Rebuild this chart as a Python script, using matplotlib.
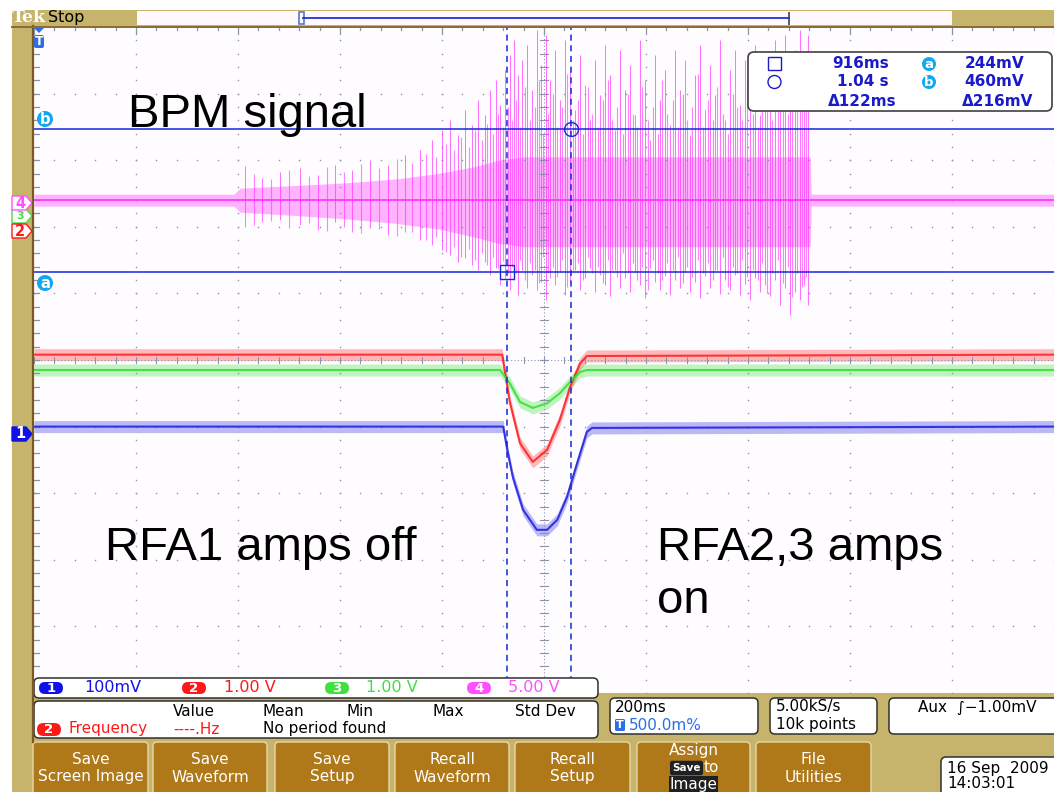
import matplotlib
matplotlib.use("Agg")
import matplotlib.pyplot as plt
from matplotlib.patches import FancyBboxPatch, Rectangle, Circle, Polygon

W, H = 1054, 792

# ---------------- data (time in ms, amplitude in screen divisions) ----------------
time_range_ms = (-12, 1988)          # 200 ms/div, 10 divisions
div_range = (-5, 5)

# channel 1 (blue) RFA
ch1_t = [-12, 908, 916, 927, 947, 974, 994, 1014, 1033, 1053, 1072, 1082, 1988]
ch1_y = [-1.00, -1.00, -1.35, -1.76, -2.25, -2.55, -2.55, -2.40, -2.06, -1.55, -1.08, -1.02, -1.00]
# channel 2 (red)
ch2_t = [-12, 906, 921, 941, 966, 994, 1019, 1039, 1059, 1072, 1988]
ch2_y = [0.08, 0.08, -0.63, -1.25, -1.53, -1.35, -0.90, -0.41, -0.05, 0.06, 0.08]
# channel 3 (green)
ch3_t = [-12, 902, 921, 941, 966, 994, 1019, 1039, 1059, 1072, 1988]
ch3_y = [-0.15, -0.15, -0.35, -0.63, -0.72, -0.65, -0.50, -0.33, -0.18, -0.15, -0.15]

# channel 4 (magenta) BPM signal: dense band envelope
bpm_band_t  = [-12, 380, 392, 500, 600, 700, 780, 850, 900, 950, 1500, 1510, 1512, 1988]
bpm_band_hi = [2.49, 2.49, 2.58, 2.62, 2.66, 2.72, 2.80, 2.90, 3.00, 3.05, 3.05, 3.05, 2.49, 2.49]
bpm_band_lo = [2.31, 2.31, 2.22, 2.17, 2.12, 2.05, 1.97, 1.85, 1.75, 1.70, 1.70, 1.70, 2.31, 2.31]
bpm_base_t = [-12, 1988]
bpm_base_y = [2.40, 2.40]
# large BPM spikes: time, top, bottom
spike_t = [402, 435, 470, 510, 545, 578, 612, 647, 682, 716, 745, 769,
           788, 804, 819, 833, 847, 859, 872, 882, 894, 902, 912, 921,
           929, 937, 945, 955, 965, 974, 982, 992, 1000, 1010, 1019, 1029,
           1039, 1049, 1059, 1069, 1078, 1088, 1098, 1108, 1118, 1127, 1137, 1147,
           1157, 1167, 1176, 1186, 1196, 1206, 1216, 1225, 1235, 1245, 1255, 1265,
           1274, 1284, 1294, 1304, 1314, 1324, 1333, 1343, 1353, 1363, 1372, 1382,
           1392, 1402, 1412, 1421, 1431, 1441, 1451, 1461, 1471, 1480, 1490, 1498, 1506]
spike_hi = [2.91, 2.73, 2.82, 2.88, 2.78, 2.93, 2.85, 3.00, 2.93, 3.08, 3.15, 3.30,
            3.45, 3.60, 3.38, 3.75, 3.53, 3.90, 3.68, 4.05, 4.20, 3.83, 4.35, 4.58,
            4.80, 4.28, 4.50, 4.73, 4.05, 4.95, 4.43, 4.88, 4.20, 4.65, 3.90, 4.80,
            4.35, 3.75, 4.58, 4.13, 3.60, 4.50, 3.98, 4.73, 4.28, 3.45, 4.65, 4.05,
            4.43, 3.68, 4.80, 4.20, 3.30, 4.58, 3.90, 4.35, 3.53, 4.65, 4.05, 4.50,
            3.38, 4.28, 4.73, 3.75, 4.43, 3.98, 4.80, 3.60, 4.35, 4.65, 3.83, 4.50,
            4.13, 4.73, 3.68, 4.58, 4.20, 4.80, 3.98, 4.88, 4.35, 4.65, 4.95, 4.50, 4.88]
spike_lo = [2.00, 2.07, 2.10, 2.03, 1.95, 2.07, 1.92, 1.98, 1.88, 1.92, 1.80, 1.73,
            1.65, 1.58, 1.47, 1.53, 1.43, 1.35, 1.47, 1.28, 1.38, 1.13, 1.23, 1.05,
            1.20, 0.98, 1.35, 1.08, 1.28, 1.05, 1.17, 0.90, 1.23, 1.13, 1.32, 0.98,
            1.17, 1.35, 1.05, 1.23, 1.38, 1.02, 1.28, 1.13, 0.96, 1.35, 1.08, 1.23,
            1.02, 1.32, 1.13, 0.93, 1.38, 1.17, 1.05, 1.26, 0.98, 1.20, 1.08, 1.32,
            1.02, 1.17, 0.93, 1.26, 1.08, 1.35, 0.99, 1.20, 1.05, 1.28, 0.98, 1.14,
            0.90, 1.23, 1.02, 1.13, 0.96, 1.20, 0.83, 1.08, 0.68, 1.02, 0.90, 1.13, 0.83]
# medium BPM spikes
mid_t = [420, 452, 488, 527, 562, 595, 630, 664, 699, 730, 757, 776,
         796, 811, 826, 840, 853, 866, 877, 888, 898, 907, 917, 925,
         933, 941, 950, 960, 970, 978, 987, 996,
         1005, 1014, 1024, 1034, 1044, 1054, 1064, 1074, 1083, 1093,
         1103, 1113, 1122, 1132, 1142, 1152, 1162, 1171, 1181, 1191,
         1201, 1211, 1220, 1230, 1240, 1250, 1260, 1269, 1279, 1289,
         1299, 1309, 1319, 1328, 1338, 1348, 1358, 1367, 1377, 1387,
         1397, 1407, 1416, 1426, 1436, 1446, 1456, 1466, 1475, 1485,
         1494, 1502]
mid_hi = [2.80, 2.72, 2.85, 2.76, 2.90, 2.82, 2.95, 2.88, 3.02, 2.96, 3.10, 3.05,
          3.25, 3.15, 3.35, 3.20, 3.45, 3.30, 3.55, 3.40, 3.70, 3.50, 3.80, 3.60,
          3.9, 3.5, 4.1, 3.6, 3.8, 4.2, 3.4, 3.7,
          4.0, 3.5, 3.8, 4.3, 3.6, 3.9, 3.4, 4.1, 3.7, 3.5,
          3.9, 4.2, 3.6, 3.8, 3.4, 4.0, 3.7, 3.5, 4.1, 3.6,
          3.8, 3.4, 4.2, 3.7, 3.9, 3.5, 4.0, 3.6, 3.8, 4.3,
          3.5, 3.9, 3.6, 4.1, 3.7, 3.4, 4.0, 3.8, 3.6, 4.2,
          3.7, 3.5, 3.9, 4.1, 3.6, 3.8, 4.4, 3.7, 4.0, 3.9,
          4.2, 3.8]
mid_lo = [2.02, 2.08, 1.98, 2.05, 1.94, 2.00, 1.90, 1.96, 1.86, 1.92, 1.80, 1.84,
          1.62, 1.70, 1.55, 1.66, 1.50, 1.60, 1.42, 1.55, 1.38, 1.48, 1.30, 1.40,
          1.3, 1.5, 1.2, 1.45, 1.35, 1.15, 1.55, 1.3,
          1.4, 1.25, 1.5, 1.1, 1.35, 1.45, 1.2, 1.55, 1.3, 1.4,
          1.15, 1.5, 1.35, 1.25, 1.6, 1.3, 1.45, 1.2, 1.4, 1.05,
          1.5, 1.3, 1.2, 1.45, 1.35, 1.55, 1.15, 1.4, 1.25, 1.5,
          1.3, 1.45, 1.2, 1.35, 1.55, 1.1, 1.4, 1.3, 1.5, 1.25,
          1.35, 1.2, 1.45, 1.0, 1.3, 1.5, 1.15, 1.4, 0.95, 1.3,
          1.1, 1.25]

# cursors
cursor_t = [916, 1040]
cursor_y = [1.32, 3.47]   # a, b

readout = {"t1": "916ms", "t2": "1.04 s", "dt": "\u0394122ms",
           "va": "244mV", "vb": "460mV", "dv": "\u0394216mV"}
ch_scales = [("1", "100mV"), ("2", "1.00 V"), ("3", "1.00 V"), ("4", "5.00 V")]
meas_headers = ["Value", "Mean", "Min", "Max", "Std Dev"]
buttons = ["Save\nScreen Image", "Save\nWaveform", "Save\nSetup", "Recall\nWaveform",
           "Recall\nSetup", "ASSIGN", "File\nUtilities"]

# ---------------- styles ----------------
TAN = '#c6b46c'
BTN = '#af7818'
GRID = '#8a94a8'
MAG = '#ff30ff'
RED = '#ff1c1c'
GRN = '#30e030'
BLU = '#1c1ce0'
CUR = '#1428d8'
CYAN = '#12a8ee'
TXTB = '#1a1ac8'
CHCOL = {"1": '#1010e8', "2": '#ff1818', "3": '#40e040', "4": '#ff50ff'}

fig = plt.figure(figsize=(W / 100, H / 100), dpi=100)

bg = fig.add_axes([0, 0, 1, 1], zorder=0)
bg.set_xlim(0, W); bg.set_ylim(H, 0); bg.axis('off')
bg.add_patch(Rectangle((0, 0), W, H, fc='white', ec='none'))
bg.add_patch(Rectangle((12, 10), W - 12, H - 10, fc=TAN, ec='none'))

# ---------------- scope screen ----------------
sc = fig.add_axes([34 / W, (H - 693) / H, 1020 / W, 666 / H], zorder=1)
sc.set_xlim(*time_range_ms); sc.set_ylim(*div_range)
sc.set_facecolor('#fffcff')
for s in sc.spines.values():
    s.set_visible(False)
sc.set_xticks([]); sc.set_yticks([])

x0 = time_range_ms[0]
msdiv = 200.0
# dotted graticule
for i in range(1, 10):
    if i == 5:
        continue
    xs = [x0 + i * msdiv] * 51
    ys = [-5 + 0.2 * k for k in range(51)]
    sc.plot(xs, ys, ls='none', marker='s', ms=1.0, color=GRID, mew=0)
for j in range(-4, 5):
    if j == 0:
        continue
    xs = [x0 + 40 * k for k in range(51)]
    sc.plot(xs, [j] * 51, ls='none', marker='s', ms=1.0, color=GRID, mew=0)
# centre axes
xc = x0 + 5 * msdiv
sc.axhline(0, color=GRID, lw=0.8, ls=(0, (1, 2)))
sc.axvline(xc, color=GRID, lw=0.8, ls=(0, (1, 2)))
for k in range(51):
    xx = x0 + 40 * k
    sc.plot([xx, xx], [-0.05, 0.05], color=GRID, lw=0.8)
    yy = -5 + 0.2 * k
    sc.plot([xc - 7, xc + 7], [yy, yy], color=GRID, lw=0.8)
# edge ticks
for k in range(51):
    xx = x0 + 40 * k
    ln = 0.11 if k % 5 == 0 else 0.05
    sc.plot([xx, xx], [5, 5 - ln], color=GRID, lw=0.9)
    yy = -5 + 0.2 * k
    sc.plot([x0, x0 + 9], [yy, yy], color=GRID, lw=0.9)

# BPM signal
sc.fill_between(bpm_band_t, bpm_band_lo, bpm_band_hi, color=MAG, alpha=0.36, lw=0)
sc.vlines(mid_t, mid_lo, mid_hi, color=MAG, lw=0.8, alpha=0.6)
sc.vlines(spike_t, spike_lo, spike_hi, color=MAG, lw=0.7, alpha=0.7)
sc.plot(bpm_base_t, bpm_base_y, color=MAG, lw=1.2)

# RFA traces (noise band + centre line)
for t, y, c in [(ch2_t, ch2_y, RED), (ch3_t, ch3_y, GRN), (ch1_t, ch1_y, BLU)]:
    sc.fill_between(t, [v - 0.09 for v in y], [v + 0.09 for v in y], color=c, alpha=0.3, lw=0)
    sc.plot(t, y, color=c, lw=1.5, alpha=0.85)

# cursors
for cy in cursor_y:
    sc.axhline(cy, color=CUR, lw=1.1)
for ct in cursor_t:
    sc.axvline(ct, color=CUR, lw=1.1, ls=(0, (4, 3)))
sc.plot(cursor_t[0], cursor_y[0], marker='s', ms=10, mfc='none', mec=CUR, mew=1)
sc.plot(cursor_t[1], cursor_y[1], marker='o', ms=10, mfc='none', mec=CUR, mew=1)

# ---------------- overlay ----------------
ov = fig.add_axes([0, 0, 1, 1], zorder=3)
ov.set_xlim(0, W); ov.set_ylim(H, 0); ov.axis('off')
ov.patch.set_alpha(0)

# borders
ov.plot([32.5, 32.5], [26, 742], color='#7a5a20', lw=1.6)
ov.plot([12, W], [26.5, 26.5], color='#8a6a30', lw=1.4)

# top bar
ov.text(12, 18, "Tek", color='white', fontsize=12.5, fontweight='bold',
        family='DejaVu Serif', va='center', ha='left')
ov.text(48, 17.5, "Stop", color='black', fontsize=11.5, va='center', ha='left')
ov.add_patch(Rectangle((137, 11), 815, 14, fc='#fff8fc', ec='none'))
ov.plot([303, 789], [18, 18], color='#2030d8', lw=1.3)
ov.add_patch(Rectangle((299, 12), 5, 12, fc='none', ec='#5a78c8', lw=1.2))
ov.add_patch(Rectangle((788, 12), 2.2, 13, fc='#606060', ec='none'))

# trigger marker
ov.add_patch(Polygon([[34, 28], [44, 28], [39, 33]], closed=True, fc='#2a6ee8', ec='none'))
ov.add_patch(FancyBboxPatch((34, 35), 10, 13, boxstyle='round,pad=0,rounding_size=2',
                            fc='#2a6ee8', ec='none'))
ov.text(39, 41.5, "T", color='white', fontsize=9, fontweight='bold', ha='center', va='center')

# cursor labels
for lbl, yy in [("b", 119), ("a", 283)]:
    ov.add_patch(Circle((45, yy), 8, fc=CYAN, ec='none'))
    ov.text(45, yy, lbl, color='white', fontsize=10.5, fontweight='bold', ha='center', va='center')

# channel markers on the left
def marker(yc, num, col, filled, fs=10.5):
    pts = [[12, yc - 7], [26, yc - 7], [32, yc], [26, yc + 7], [12, yc + 7]]
    ov.add_patch(Polygon(pts, closed=True, fc=col if filled else 'white', ec=col, lw=1))
    ov.text(20, yc, num, color='white' if filled else col, fontsize=fs,
            ha='center', va='center', fontweight='bold')

marker(216, "3", CHCOL["3"], False, fs=8)
marker(203, "4", CHCOL["4"], False)
marker(231, "2", CHCOL["2"], False)
marker(434, "1", '#1010e8', True)

# annotations
ann = dict(fontsize=34, family='Liberation Sans', color='black', va='baseline', ha='left')
ov.text(128, 127, "BPM signal", **ann)
ov.text(105, 560, "RFA1 amps off", **ann)
ov.text(657, 560, "RFA2,3 amps", **ann)
ov.text(657, 613, "on", **ann)

# readout box
ov.add_patch(FancyBboxPatch((748, 52), 304, 59, boxstyle='round,pad=0,rounding_size=6',
                            fc='white', ec='#404040', lw=1.2))
rk = dict(color=TXTB, fontsize=11, fontweight='bold', va='center', ha='right')
ov.add_patch(Rectangle((768, 57), 13, 13, fc='none', ec=TXTB, lw=1))
ov.add_patch(Circle((774.5, 82), 6.5, fc='none', ec=TXTB, lw=1))
ov.text(889, 64, readout["t1"], **rk)
ov.text(889, 82, readout["t2"], **rk)
ov.text(897, 101, readout["dt"], **rk)
ov.text(1024, 64, readout["va"], **rk)
ov.text(1024, 82, readout["vb"], **rk)
ov.text(1033, 101, readout["dv"], **rk)
for lbl, yy in [("a", 64), ("b", 82)]:
    ov.add_patch(Circle((929, yy), 7, fc=CYAN, ec='none'))
    ov.text(929, yy, lbl, color='white', fontsize=9.5, fontweight='bold', ha='center', va='center')

# channel scale box
ov.add_patch(FancyBboxPatch((34, 678), 564, 20, boxstyle='round,pad=0,rounding_size=5',
                            fc='white', ec='#303030', lw=1.1))
pill_x = [51, 194, 337, 479]
text_x = [84, 224, 366, 508]
for (num, sval), px, tx in zip(ch_scales, pill_x, text_x):
    col = CHCOL[num]
    ov.add_patch(FancyBboxPatch((px - 12, 682), 24, 12, boxstyle='round,pad=0,rounding_size=6',
                                fc=col, ec='none'))
    ov.text(px, 688, num, color='white', fontsize=9.5, fontweight='bold', ha='center', va='center')
    ov.text(tx, 688, sval, color=col, fontsize=11.5, ha='left', va='center')

# measurement box
ov.add_patch(FancyBboxPatch((34, 701), 564, 37, boxstyle='round,pad=0,rounding_size=5',
                            fc='white', ec='#303030', lw=1.1))
for hdr, hx in zip(meas_headers, [173, 263, 347, 432, 515]):
    ov.text(hx, 711, hdr, color='black', fontsize=11, ha='left', va='center')
ov.add_patch(FancyBboxPatch((37, 723), 24, 13, boxstyle='round,pad=0,rounding_size=6.5',
                            fc=CHCOL["2"], ec='none'))
ov.text(49, 729.5, "2", color='white', fontsize=9.5, fontweight='bold', ha='center', va='center')
ov.text(68, 729, "Frequency", color=CHCOL["2"], fontsize=11, ha='left', va='center')
ov.text(173, 729, "----.Hz", color=CHCOL["2"], fontsize=11, ha='left', va='center')
ov.text(263, 729, "No period found", color='black', fontsize=11, ha='left', va='center')

# timebase boxes
for bx, bw in [(610, 148), (770, 107), (889, 170)]:
    ov.add_patch(FancyBboxPatch((bx, 698), bw, 36, boxstyle='round,pad=0,rounding_size=5',
                                fc='white', ec='#303030', lw=1.1))
ov.text(615, 707, "200ms", color='black', fontsize=11, ha='left', va='center')
ov.add_patch(FancyBboxPatch((615, 719), 10, 12, boxstyle='round,pad=0,rounding_size=1.5',
                            fc='#2a6ee8', ec='none'))
ov.text(620, 725, "T", color='white', fontsize=8, fontweight='bold', ha='center', va='center')
ov.text(629, 725, "500.0m%", color='#2a6ee8', fontsize=11, ha='left', va='center')
ov.text(776, 707, "5.00kS/s", color='black', fontsize=11, ha='left', va='center')
ov.text(776, 725, "10k points", color='black', fontsize=11, ha='left', va='center')
ov.text(918, 707, "Aux  \u222b\u22121.00mV", color='black', fontsize=11, ha='left', va='center')

# soft buttons
btn_x = [(33, 148), (153, 267), (275, 389), (395, 509), (515, 630), (637, 750), (756, 871)]
for (bx0, bx1), lbl in zip(btn_x, buttons):
    ov.add_patch(FancyBboxPatch((bx0, 742), bx1 - bx0, 60, boxstyle='round,pad=0,rounding_size=4',
                                fc=BTN, ec='#e8d8a8', lw=1.0))
    cx = (bx0 + bx1) / 2
    if lbl == "ASSIGN":
        ov.text(cx, 751, "Assign", color='white', fontsize=11, ha='center', va='center')
        ov.text(cx - 7, 768, "Save", color='white', fontsize=7.5, fontweight='bold', ha='center',
                va='center', bbox=dict(boxstyle='round,pad=0.15', fc='#202020', ec='#202020'))
        ov.text(cx + 18, 767, "to", color='white', fontsize=11, ha='center', va='center')
        ov.text(cx, 784, "Image", color='white', fontsize=11, ha='center', va='center',
                bbox=dict(boxstyle='square,pad=0.05', fc='#202020', ec='none'))
    else:
        l1, l2 = lbl.split("\n")
        ov.text(cx, 759, l1, color='white', fontsize=11, ha='center', va='center')
        ov.text(cx, 777, l2, color='white', fontsize=11, ha='center', va='center')

# date box
ov.add_patch(FancyBboxPatch((941, 757), 120, 45, boxstyle='round,pad=0,rounding_size=5',
                            fc='white', ec='#303030', lw=1.1))
ov.text(947, 768, "16 Sep  2009", color='black', fontsize=11, ha='left', va='center')
ov.text(947, 784, "14:03:01", color='black', fontsize=11, ha='left', va='center')

fig.savefig("out.png", dpi=100)
